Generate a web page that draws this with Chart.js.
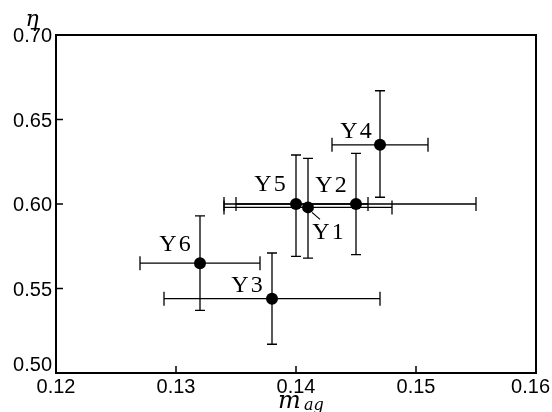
<!DOCTYPE html>
<html>
<head>
<meta charset="utf-8">
<script src="https://cdn.jsdelivr.net/npm/chart.js@4"></script>
<style>
  html, body { margin: 0; padding: 0; background: #fff; }
  #wrap { width: 552px; height: 412px; }
</style>
</head>
<body>
<div id="wrap"><canvas id="chart"></canvas></div>
<script>
// --- 1. 데이터 ---
const pointNames = ["Y1", "Y2", "Y3", "Y4", "Y5", "Y6"];
const magValues  = [0.141, 0.145, 0.138, 0.147, 0.140, 0.132];
const etaValues  = [0.598, 0.600, 0.544, 0.635, 0.600, 0.565];
const magLow     = [0.134, 0.135, 0.129, 0.143, 0.134, 0.127];
const magHigh    = [0.148, 0.155, 0.147, 0.151, 0.146, 0.137];
const etaLow     = [0.568, 0.570, 0.517, 0.604, 0.569, 0.537];
const etaHigh    = [0.627, 0.630, 0.571, 0.667, 0.629, 0.593];

const xTickValues = [0.12, 0.13, 0.14, 0.15, 0.16];
const xTickLabels = ["0.12", "0.13", "0.14", "0.15", "0.16"];
const yTickValues = [0.50, 0.55, 0.60, 0.65, 0.70];
const yTickLabels = ["0.50", "0.55", "0.60", "0.65", "0.70"];

// 라벨 위치 (점 기준 픽셀 오프셋)
const labelOffsets = {
    Y1: [21, 24], Y2: [-24, -19], Y3: [-24, -14], Y4: [-23, -14], Y5: [-25, -20], Y6: [-24, -19]
};
// Y1 지시선
const leaderLines = { Y1: [[4, 5], [12, 12]] };

// --- 2. 그리기 플러그인 ---

/** 오차 막대, 테두리, 눈금을 그립니다. */
const errorBarPlugin = {
    id: "errorBars",
    beforeDatasetsDraw(chart) {
        const { ctx, chartArea: area, scales: { x, y } } = chart;
        ctx.save();
        ctx.strokeStyle = "#000";
        ctx.lineWidth = 1.3;

        pointNames.forEach((name, i) => {
            const px = x.getPixelForValue(magValues[i]);
            const py = y.getPixelForValue(etaValues[i]);
            const x0 = x.getPixelForValue(magLow[i]);
            const x1 = x.getPixelForValue(magHigh[i]);
            const y0 = y.getPixelForValue(etaLow[i]);
            const y1 = y.getPixelForValue(etaHigh[i]);
            ctx.beginPath();
            // 가로 막대
            ctx.moveTo(x0, py); ctx.lineTo(x1, py);
            ctx.moveTo(x0, py - 7); ctx.lineTo(x0, py + 7);
            ctx.moveTo(x1, py - 7); ctx.lineTo(x1, py + 7);
            // 세로 막대
            ctx.moveTo(px, y0); ctx.lineTo(px, y1);
            ctx.moveTo(px - 5, y0); ctx.lineTo(px + 5, y0);
            ctx.moveTo(px - 5, y1); ctx.lineTo(px + 5, y1);
            ctx.stroke();
        });

        // 테두리
        ctx.lineWidth = 2;
        ctx.strokeRect(area.left, area.top, area.right - area.left, area.bottom - area.top);

        // 안쪽 눈금 (왼쪽, 아래)
        ctx.lineWidth = 1.5;
        ctx.beginPath();
        xTickValues.forEach(v => {
            const tx = x.getPixelForValue(v);
            ctx.moveTo(tx, area.bottom); ctx.lineTo(tx, area.bottom - 7);
        });
        yTickValues.forEach(v => {
            const ty = y.getPixelForValue(v);
            ctx.moveTo(area.left, ty); ctx.lineTo(area.left + 7, ty);
        });
        ctx.stroke();
        ctx.restore();
    },
    afterDraw(chart) {
        const { ctx, chartArea: area, scales: { x, y } } = chart;
        ctx.save();
        ctx.fillStyle = "#000";
        ctx.strokeStyle = "#000";

        // 눈금 라벨
        ctx.font = "20px 'Liberation Sans', Arial, sans-serif";
        ctx.textBaseline = "alphabetic";
        ctx.textAlign = "center";
        xTickValues.forEach((v, i) => {
            const w = ctx.measureText(xTickLabels[i]).width;
            let tx = x.getPixelForValue(v);
            tx = Math.min(tx, chart.width - 2 - w / 2);
            ctx.fillText(xTickLabels[i], tx, area.bottom + 20);
        });
        ctx.textAlign = "right";
        yTickValues.forEach((v, i) => {
            const ty = Math.min(y.getPixelForValue(v) + 7, area.bottom - 2);
            ctx.fillText(yTickLabels[i], area.left - 4, ty);
        });

        // 축 제목
        ctx.textAlign = "center";
        ctx.font = "italic 22px 'DejaVu Serif', serif";
        ctx.fillText("η", 32, 26);
        ctx.textAlign = "left";
        ctx.font = "italic 24px 'DejaVu Serif', serif";
        ctx.fillText("m", 278, 408);
        ctx.font = "italic 16px 'DejaVu Serif', serif";
        ctx.fillText("ag", 304, 410);

        // 점 라벨
        ctx.font = "24px 'Liberation Serif', 'Times New Roman', serif";
        ctx.letterSpacing = "2px";
        ctx.textAlign = "center";
        ctx.textBaseline = "middle";
        pointNames.forEach((name, i) => {
            const px = x.getPixelForValue(magValues[i]);
            const py = y.getPixelForValue(etaValues[i]);
            const off = labelOffsets[name];
            ctx.fillText(name, px + off[0], py + off[1] + 1);
            const leader = leaderLines[name];
            if (leader) {
                ctx.lineWidth = 1.2;
                ctx.beginPath();
                ctx.moveTo(px + leader[0][0], py + leader[0][1]);
                ctx.lineTo(px + leader[1][0], py + leader[1][1]);
                ctx.stroke();
            }
        });
        ctx.restore();
    }
};

// --- 3. 차트 생성 ---
const chartCanvas = document.getElementById("chart").getContext("2d");

new Chart(chartCanvas, {
    type: "scatter",
    data: {
        datasets: [{
            label: "η",
            data: magValues.map((m, i) => ({ x: m, y: etaValues[i] })),
            pointRadius: 6,
            pointHoverRadius: 6,
            backgroundColor: "#000",
            borderWidth: 0
        }]
    },
    options: {
        responsive: true,
        maintainAspectRatio: false,
        animation: false,
        layout: {
            autoPadding: false,
            padding: { left: 56, right: 16, top: 35, bottom: 39 }
        },
        plugins: {
            legend: { display: false },
            tooltip: { enabled: false }
        },
        scales: {
            x: { type: "linear", min: 0.12, max: 0.16, display: false },
            y: { type: "linear", min: 0.50, max: 0.70, display: false }
        }
    },
    plugins: [errorBarPlugin]
});
</script>
</body>
</html>
